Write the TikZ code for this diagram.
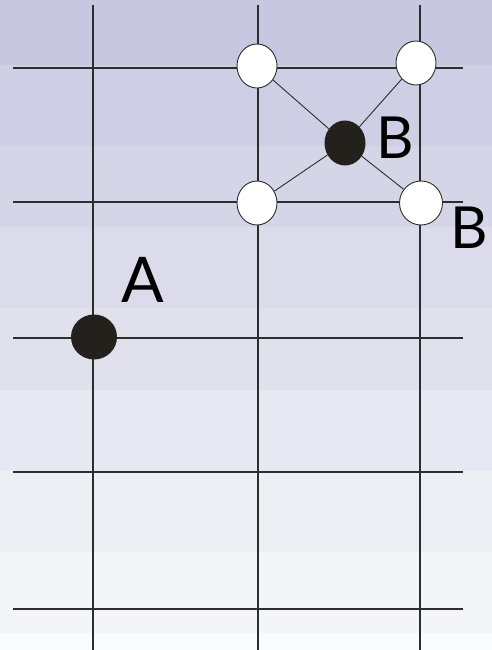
\documentclass[tikz,border=0pt]{standalone}
\usepackage{fontspec}
\setmainfont{Lato}
\usetikzlibrary{shapes.geometric}
\definecolor{bandtop}{RGB}{199,200,224}
\definecolor{gridline}{RGB}{45,45,45}
\definecolor{stone}{RGB}{36,33,29}

\begin{document}
\begin{tikzpicture}[x=1pt, y=-1pt,
  gridrule/.style={gridline, line width=1.1pt},
  spoke/.style={gridline, line width=0.9pt},
  empty/.style={ellipse, draw=gridline, line width=0.9pt, fill=white, minimum width=40pt, minimum height=44pt, inner sep=0pt},
  filled/.style={ellipse, fill=stone, minimum width=41pt, minimum height=45pt, inner sep=0pt},
  letter/.style={inner sep=0pt, font=\fontsize{58}{60}\selectfont}]
\useasboundingbox (0,0) rectangle (492,650);
% background bands
\foreach \k in {0,...,8} {
  \pgfmathtruncatemacro{\shade}{100-\k*11.5}
  \fill[bandtop!\shade!white] (0,{-16+81.1*\k}) rectangle (492,{-16+81.1*(\k+1)});
}
% grid
\foreach \x in {93,258,420}
  \draw[gridrule] (\x,5) -- (\x,650);
\foreach \y in {68,202,338,472,609}
  \draw[gridrule] (13,\y) -- (463,\y);
% stones
\node[empty] (tl) at (257,66) {};
\node[empty] (tr) at (416,63) {};
\node[empty] (bl) at (257,203) {};
\node[empty, minimum width=43pt] (br) at (421,203) {};
\node[filled] (b) at (345,143) {};
\node[filled, minimum width=46pt] (a) at (94,337) {};
\draw[spoke] (b) -- (tl);
\draw[spoke] (b) -- (tr);
\draw[spoke] (b) -- (bl);
\draw[spoke] (b) -- (br);
% labels
\node[letter] (labb) at (395,138) {B};
\node[letter] (labbr) at (469,228) {B};
\node[letter, font=\fontsize{63}{65}\selectfont] (laba) at (143,280) {A};
\end{tikzpicture}
\end{document}
